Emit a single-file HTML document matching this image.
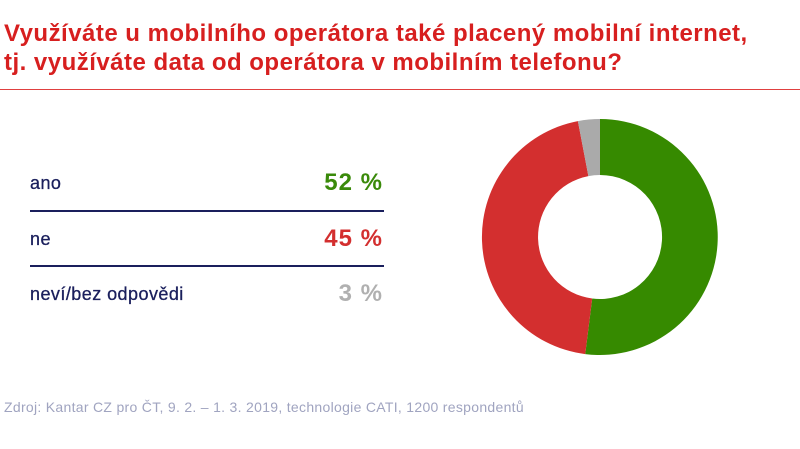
<!DOCTYPE html>
<html><head><meta charset="utf-8"><style>
body{margin:0;width:800px;height:449px;background:#fff;position:relative;overflow:hidden;font-family:"Liberation Sans",sans-serif}
.t{position:absolute;left:4px;top:19px;color:#d71f1f;font-weight:bold;font-size:24px;line-height:29px;white-space:nowrap;letter-spacing:0.48px}
.hr{position:absolute;left:0;top:89px;width:800px;height:1px;background:#e04040}
.l{position:absolute;left:30px;font-size:18px;color:#1a1f5c;letter-spacing:0.45px;-webkit-text-stroke:0.3px #1a1f5c}
.v{position:absolute;right:417px;font-size:24px;font-weight:bold;letter-spacing:1px}
.sep{position:absolute;left:30px;width:354px;height:2px;background:#1a1f5c}
.src{position:absolute;left:4px;top:399px;font-size:14px;color:#a0a4c0;letter-spacing:0.3px}
</style></head><body>
<div class="t">Využíváte u mobilního operátora také placený mobilní internet,<br>tj. využíváte data od operátora v mobilním telefonu?</div>
<div class="hr"></div>
<div class="l" style="top:173px">ano</div><div class="v" style="top:169px;color:#3a8a0a">52 %</div>
<div class="sep" style="top:210px"></div>
<div class="l" style="top:229px">ne</div><div class="v" style="top:225px;color:#d32f2f">45 %</div>
<div class="sep" style="top:265px"></div>
<div class="l" style="top:284px">neví/bez odpovědi</div><div class="v" style="top:280px;color:#b0b0b0">3 %</div>
<svg style="position:absolute;left:0;top:0" width="800" height="449">
<path d="M600 119 A118 118 0 1 1 585.2 354.1 L592.2 298.5 A62 62 0 1 0 600 175 Z" fill="#368a00"/>
<path d="M585.2 354.1 A118 118 0 0 1 577.9 121.1 L588.4 176.1 A62 62 0 0 0 592.2 298.5 Z" fill="#d32f2f"/>
<path d="M577.9 121.1 A118 118 0 0 1 600 119 L600 175 A62 62 0 0 0 588.4 176.1 Z" fill="#aaaaaa"/>
</svg>
<div class="src">Zdroj: Kantar CZ pro ČT, 9. 2. – 1. 3. 2019, technologie CATI, 1200 respondentů</div>
</body></html>
